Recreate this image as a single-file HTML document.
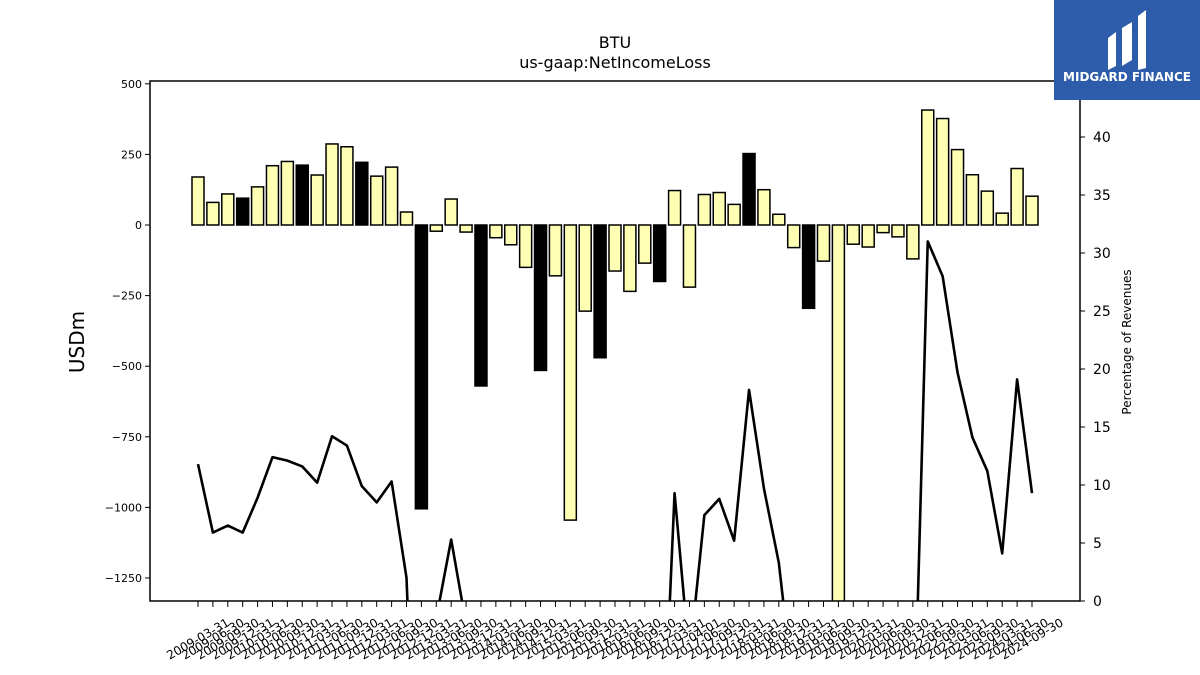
<!DOCTYPE html>
<html><head><meta charset="utf-8"><style>
html,body{margin:0;background:#fff;width:1200px;height:675px;overflow:hidden;font-family:"Liberation Sans","DejaVu Sans",sans-serif}
svg{display:block}
svg text{font-family:"DejaVu Sans","Liberation Sans",sans-serif}
</style></head><body>
<svg id="chart" width="1200" height="675" xmlns="http://www.w3.org/2000/svg">
<defs><clipPath id="plotclip"><rect x="150" y="81" width="930" height="520"/></clipPath></defs>
<text x="615" y="48" text-anchor="middle" font-size="16">BTU</text>
<text x="615" y="68" text-anchor="middle" font-size="16">us-gaap:NetIncomeLoss</text>
<g id="bars" clip-path="url(#plotclip)"></g>
<g id="line" clip-path="url(#plotclip)"></g>
<rect x="150" y="81" width="930" height="520" fill="none" stroke="#000" stroke-width="1.5"/>
<g id="yleft"></g><g id="yright"></g><g id="xaxis"></g>
<text transform="translate(84,342) rotate(-90)" text-anchor="middle" font-size="20">USDm</text>
<text transform="translate(1131,342) rotate(-90)" text-anchor="middle" font-size="12">Percentage of Revenues</text>
<g>
<rect x="1054" y="0" width="146" height="100" fill="#2d5caa"/>
<path d="M1108 38 L1116 32 L1116 66 L1108 70 Z M1122 28 L1132 22 L1132 60 L1122 66 Z M1138 16 L1146 10 L1146 68 L1138 70 Z" fill="#fff"/>
<text x="1127" y="81" text-anchor="middle" font-size="12" font-weight="bold" fill="#fff" font-family="Liberation Sans,sans-serif">MIDGARD FINANCE</text>
</g>
</svg>
<script>
const dates=["2009-03-31","2009-06-30","2009-09-30","2009-12-31","2010-03-31","2010-06-30","2010-09-30","2010-12-31","2011-03-31","2011-06-30","2011-09-30","2011-12-31","2012-03-31","2012-06-30","2012-09-30","2012-12-31","2013-03-31","2013-06-30","2013-09-30","2013-12-31","2014-03-31","2014-06-30","2014-09-30","2014-12-31","2015-03-31","2015-06-30","2015-09-30","2015-12-31","2016-03-31","2016-06-30","2016-09-30","2016-12-31","2017-03-31","2017-04-01","2017-06-30","2017-09-30","2017-12-31","2018-03-31","2018-06-30","2018-09-30","2018-12-31","2019-03-31","2019-06-30","2019-09-30","2019-12-31","2020-03-31","2020-06-30","2020-09-30","2020-12-31","2022-06-30","2022-09-30","2023-03-31","2023-06-30","2023-09-30","2024-03-31","2024-06-30","2024-09-30"];
const netIncome=[170,80,110,95,135,210,225,212,177,287,277,222,173,205,46,-1005,-22,92,-25,-570,-45,-70,-150,-515,-180,-1045,-305,-470,-163,-235,-135,-200,122,-220,108,115,73,253,125,38,-80,-295,-128,-1400,-68,-78,-27,-42,-120,407,377,267,178,120,42,200,102];
const annualFlag=[0,0,0,1,0,0,0,1,0,0,0,1,0,0,0,1,0,0,0,1,0,0,0,1,0,0,0,1,0,0,0,1,0,0,0,0,0,1,0,0,0,1,0,0,0,0,0,0,0,0,0,0,0,0,0,0,0];
const pctRevenue=[11.8,5.9,6.5,5.9,8.9,12.4,12.1,11.6,10.2,14.2,13.4,9.9,8.5,10.3,2.0,-30,-1.5,5.3,-2,-30,-5,-5,-10,-30,-10,-40,-20,-30,-15,-20,-10,-20,9.3,-5,7.4,8.8,5.2,18.2,9.7,3.3,-8,-20,-10,-40,-10,-10,-5,-5,-15.5,31.0,28.0,19.7,14.1,11.2,4.1,19.1,9.3];
const leftTicks=[500,250,0,-250,-500,-750,-1000,-1250];
const rightTicks=[0,5,10,15,20,25,30,35,40];
const NS="http://www.w3.org/2000/svg";
const x0=198,x1=1032;
function xs(i){return x0+(x1-x0)*i/(dates.length-1);}
function yl(v){return 225-v*0.2824;}
function yr(v){return 601-v*11.6;}
function mk(t,a,p){const e=document.createElementNS(NS,t);for(const k in a)e.setAttribute(k,a[k]);p.appendChild(e);return e;}
const gb=document.getElementById('bars');
netIncome.forEach((v,i)=>{
 const r=mk('rect',{x:xs(i)-6,y:Math.min(yl(v),yl(0)),width:12,height:Math.abs(yl(v)-yl(0)),fill:annualFlag[i]?'#000':'#ffffb3',stroke:'#000','stroke-width':1.5},gb);
 
 
});
const gl=document.getElementById('line');
const pl=mk('polyline',{points:pctRevenue.map((v,i)=>xs(i)+','+yr(v)).join(' '),fill:'none',stroke:'#000','stroke-width':2.6,'stroke-linejoin':'round'},gl);


const gyl=document.getElementById('yleft');
leftTicks.forEach(t=>{
 const y=yl(t);
 mk('line',{x1:145,x2:150,y1:y,y2:y,stroke:'#000','stroke-width':1},gyl);
 const tx=mk('text',{x:142,y:y+4,'text-anchor':'end','font-size':11},gyl);
 tx.textContent=t<0?'\u2212'+Math.abs(t):t;
 
 
});
const gyr=document.getElementById('yright');
rightTicks.forEach(t=>{
 const y=yr(t);
 mk('line',{x1:1080,x2:1085,y1:y,y2:y,stroke:'#000','stroke-width':1},gyr);
 const tx=mk('text',{x:1093,y:y+5,'font-size':14},gyr);
 tx.textContent=t;
 
 
});
const gx=document.getElementById('xaxis');
dates.forEach((d,i)=>{
 const x=xs(i);
 mk('line',{x1:x,x2:x,y1:601,y2:607,stroke:'#000','stroke-width':1},gx);
 const tx=mk('text',{transform:'translate('+x+',639) rotate(-30)','text-anchor':'middle','font-size':12,dy:4},gx);
 tx.textContent=d;
 
 
});
</script>
</body></html>
